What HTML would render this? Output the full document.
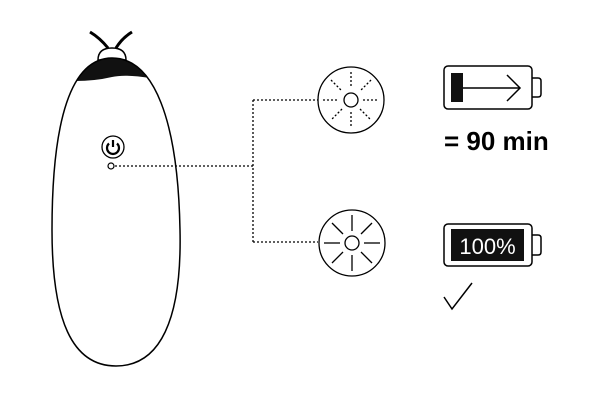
<!DOCTYPE html>
<html><head><style>body{margin:0;background:#fff}svg{display:block}</style></head><body>
<svg width="600" height="400" viewBox="0 0 600 400" xmlns="http://www.w3.org/2000/svg">
<defs><clipPath id="b"><path d="M112 58 C154 58 178 120 180 230 C182 320 160 366 116 366 C72 366 52 320 52 230 C52 120 71 58 112 58Z"/></clipPath></defs>
<path d="M90 32 Q100 38 108 48" stroke="#000" stroke-width="3" fill="none"/>
<path d="M132 32 Q122 38 116 48" stroke="#000" stroke-width="3" fill="none"/>
<path d="M98 60 Q98 48 112 48 Q126 48 126 60Z" fill="#fff" stroke="#000" stroke-width="1.5"/>
<path clip-path="url(#b)" d="M40 40 H190 V81 Q170 81 150 78 Q125 74 112 77 Q95 81 75 81 H40Z" fill="#111"/>
<path d="M112 58 C154 58 178 120 180 230 C182 320 160 366 116 366 C72 366 52 320 52 230 C52 120 71 58 112 58Z" fill="none" stroke="#000" stroke-width="1.5"/>
<circle cx="113" cy="147" r="11" fill="#fff" stroke="#000" stroke-width="1.3"/>
<path d="M109 143.5 A6 6 0 1 0 117 143.5" fill="none" stroke="#000" stroke-width="2.2"/>
<line x1="113" y1="140" x2="113" y2="147" stroke="#000" stroke-width="2.2"/>
<circle cx="111" cy="166" r="3" fill="#fff" stroke="#000" stroke-width="1.2"/>
<g stroke="#000" stroke-width="1.3" stroke-dasharray="2 2" fill="none">
<path d="M115 166 H253 M253 100 V242 M253 100 H318 M253 242 H318"/>
</g>
<circle cx="351" cy="100" r="33" fill="#fff" stroke="#000" stroke-width="1.3"/>
<circle cx="351" cy="100" r="7" fill="#fff" stroke="#000" stroke-width="1.3"/>
<g stroke="#000" stroke-width="1.3" stroke-dasharray="2 2">
<line x1="351" y1="72" x2="351" y2="88"/><line x1="351" y1="112" x2="351" y2="128"/>
<line x1="323" y1="100" x2="339" y2="100"/><line x1="363" y1="100" x2="379" y2="100"/>
<line x1="331" y1="80" x2="342" y2="91"/><line x1="360" y1="109" x2="371" y2="120"/>
<line x1="371" y1="80" x2="360" y2="91"/><line x1="342" y1="109" x2="331" y2="120"/>
</g>
<circle cx="352" cy="243" r="33" fill="#fff" stroke="#000" stroke-width="1.3"/>
<circle cx="352" cy="243" r="7" fill="#fff" stroke="#000" stroke-width="1.3"/>
<g stroke="#000" stroke-width="1.3">
<line x1="352" y1="215" x2="352" y2="231"/><line x1="352" y1="255" x2="352" y2="271"/>
<line x1="324" y1="243" x2="340" y2="243"/><line x1="364" y1="243" x2="380" y2="243"/>
<line x1="332" y1="223" x2="343" y2="234"/><line x1="361" y1="252" x2="372" y2="263"/>
<line x1="372" y1="223" x2="361" y2="234"/><line x1="343" y1="252" x2="332" y2="263"/>
</g>
<rect x="444" y="66" width="88" height="43" rx="4" fill="none" stroke="#000" stroke-width="1.5"/>
<path d="M532 78 H538 Q541 78 541 81 V94 Q541 97 538 97 H532" fill="none" stroke="#000" stroke-width="1.5"/>
<rect x="451" y="73" width="12" height="29" fill="#111"/>
<line x1="463" y1="88" x2="520" y2="88" stroke="#000" stroke-width="1.5"/>
<path d="M507 75 L520 88 L507 101" fill="none" stroke="#000" stroke-width="1.5"/>
<text x="444" y="150" font-family="Liberation Sans, sans-serif" font-size="26" font-weight="bold" fill="#000">= 90 min</text>
<rect x="444" y="224" width="88" height="42" rx="4" fill="none" stroke="#000" stroke-width="1.5"/>
<path d="M532 235 H538 Q541 235 541 238 V252 Q541 255 538 255 H532" fill="none" stroke="#000" stroke-width="1.5"/>
<rect x="451" y="229" width="73" height="32" fill="#111"/>
<text x="487.5" y="254" text-anchor="middle" font-family="Liberation Sans, sans-serif" font-size="22" fill="#fff">100%</text>
<path d="M444 297 L452 309 L472 283" fill="none" stroke="#000" stroke-width="1.5"/>
</svg>
</body></html>
